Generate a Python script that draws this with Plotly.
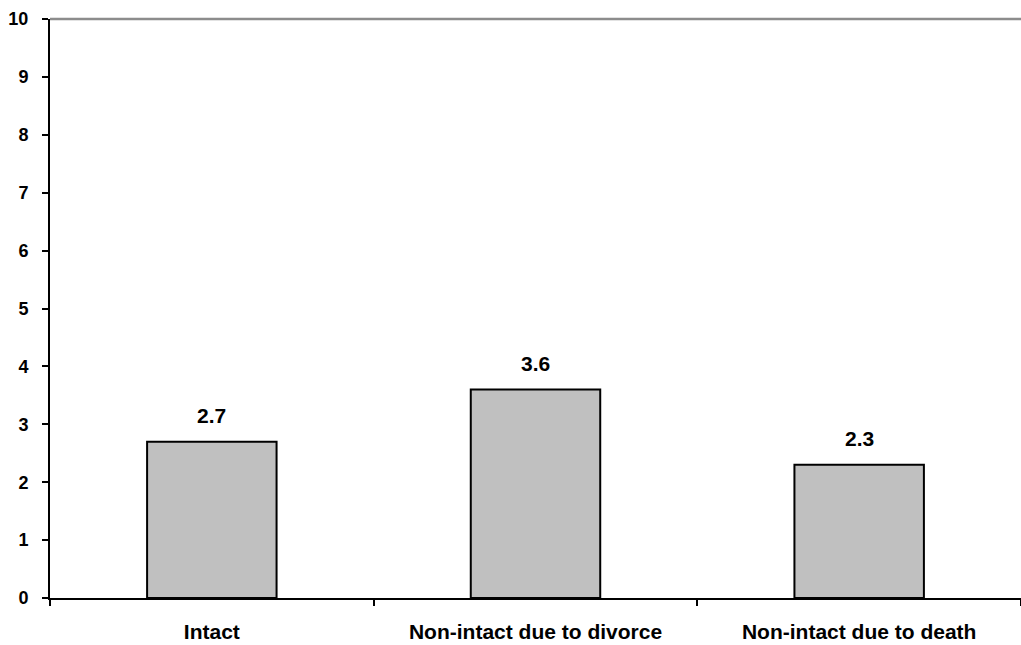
import plotly.graph_objects as go

categories = ["Intact", "Non-intact due to divorce", "Non-intact due to death"]
values = [2.7, 3.6, 2.3]
y_ticks = list(range(0, 11))

FONT = "Liberation Sans, Arial, sans-serif"

fig = go.Figure()
fig.add_trace(go.Bar(
    x=categories, y=values, width=0.4,
    marker=dict(color="#C0C0C0", line=dict(color="black", width=2)),
    hoverinfo="skip",
))

for c, v in zip(categories, values):
    fig.add_annotation(x=c, y=v, text=f"<b>{v}</b>", showarrow=False,
                       yshift=26, font=dict(family=FONT, size=21, color="black"))

fig.add_shape(type="line", xref="paper", yref="paper", x0=0, x1=1, y0=1, y1=1,
              line=dict(color="#8C8C8C", width=2.5))

fig.update_layout(
    width=1021, height=645,
    margin=dict(l=50, r=0, t=19, b=47, pad=0),
    plot_bgcolor="white", paper_bgcolor="white",
    showlegend=False,
    font=dict(family=FONT, color="black"),
    xaxis=dict(
        type="category", range=[-0.5, 2.5],
        showline=True, linecolor="black", linewidth=2,
        ticks="outside", tickson="boundaries", ticklen=6, tickwidth=2, tickcolor="black",
        showgrid=False, zeroline=False,
        tickvals=categories, ticktext=[f"<b>{c}</b>" for c in categories],
        tickfont=dict(family=FONT, size=21, color="black"),
        ticklabelstandoff=14,
    ),
    yaxis=dict(
        range=[0, 10], tickvals=y_ticks, ticktext=[f"<b>{t}</b>" for t in y_ticks],
        showline=True, linecolor="black", linewidth=2,
        ticks="outside", ticklen=6, tickwidth=2, tickcolor="black",
        showgrid=False, zeroline=False,
        tickfont=dict(family=FONT, size=18, color="black"),
        ticklabelstandoff=10,
    ),
)

fig.write_html("out.html", config={"displayModeBar": False},
               post_script="document.body.style.margin='0';document.body.style.overflow='hidden';")
